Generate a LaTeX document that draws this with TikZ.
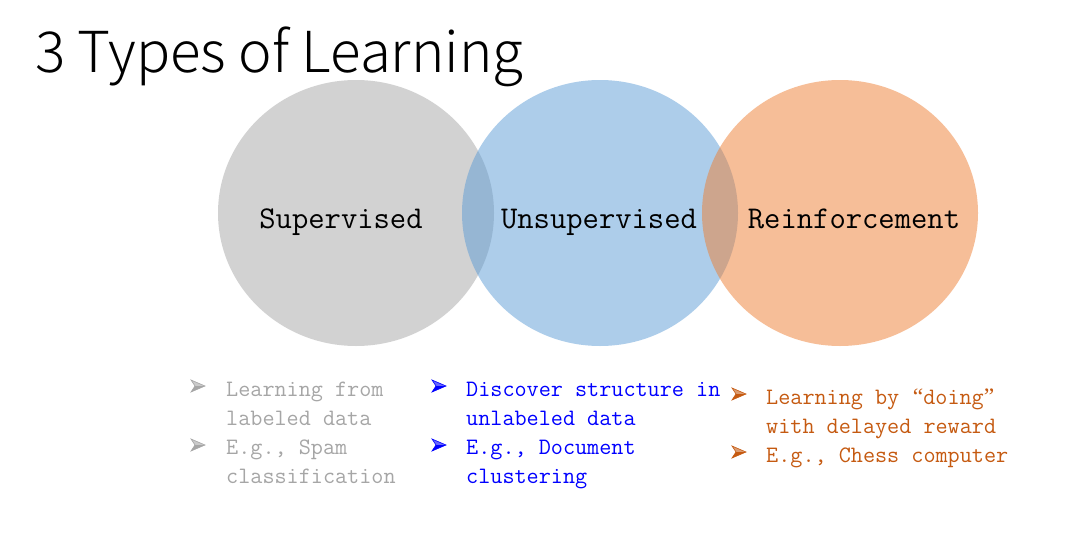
\documentclass[tikz,border=0pt]{standalone}
\usepackage{fontspec}
\newfontfamily\titlefont{Noto Sans CJK SC}[UprightFont=* Light]
\newfontfamily\quotefont{Liberation Serif}
\definecolor{supgray}{HTML}{A5A5A5}
\definecolor{unsblue}{HTML}{5B9BD5}
\definecolor{reiorange}{HTML}{ED7D31}
\definecolor{graytext}{HTML}{A6A6A6}
\definecolor{bluetext}{HTML}{0000FF}
\definecolor{orangetext}{HTML}{C55A11}
% full-width curly quotes
\newcommand{\wideopenq}{\makebox[24pt][r]{\quotefont “}}
\newcommand{\widecloseq}{\makebox[24pt][l]{\quotefont ”}}
\tikzset{
  blob/.style={fill opacity=0.5, draw=none},
  circlabel/.style={anchor=base, inner sep=0pt, font=\fontsize{31.7}{31.7}\selectfont\ttfamily},
  itemline/.style={anchor=base west, inner sep=0pt, font=\fontsize{23.5}{29}\selectfont\ttfamily},
  arrowbullet/.pic={
    \fill[#1!60] (0,-6) -- (14,0) -- (4,0) -- cycle;
    \fill[#1] (0,6) -- (14,0) -- (4,0) -- cycle;
    \draw[#1, line width=0.6pt, line join=miter] (0,-6) -- (14,0) -- (0,6) -- (4,0) -- cycle;
  }
}
\begin{document}
\begin{tikzpicture}[x=1pt, y=-1pt]
\useasboundingbox (0,0) rectangle (1074,541);

% title
\node[anchor=base west, inner sep=0pt, font=\fontsize{56.5}{56.5}\selectfont\titlefont] (title) at (35,72) {3 Types of Learning};

% the three overlapping discs
\fill[blob, supgray]   (356,213) ellipse [x radius=138, y radius=133];
\fill[blob, unsblue]   (600,213) ellipse [x radius=138, y radius=133];
\fill[blob, reiorange] (840,213) ellipse [x radius=138, y radius=133];

\node[circlabel] (sup) at (341,228) {Supervised};
\node[circlabel] (uns) at (599,228) {Unsupervised};
\node[circlabel] (rei) at (854,228) {Reinforcement};

% supervised notes
\pic at (191,386) {arrowbullet=graytext};
\node[itemline, text=graytext] (s1) at (226,396) {Learning from};
\node[itemline, text=graytext] (s2) at (226,425) {labeled data};
\pic at (191,445) {arrowbullet=graytext};
\node[itemline, text=graytext] (s3) at (226,454) {E.g., Spam};
\node[itemline, text=graytext] (s4) at (226,483) {classification};

% unsupervised notes
\pic at (432,386) {arrowbullet=bluetext};
\node[itemline, text=bluetext] (u1) at (466,396) {Discover structure in};
\node[itemline, text=bluetext] (u2) at (466,425) {unlabeled data};
\pic at (432,445) {arrowbullet=bluetext};
\node[itemline, text=bluetext] (u3) at (466,454) {E.g., Document};
\node[itemline, text=bluetext] (u4) at (466,483) {clustering};

% reinforcement notes
\pic at (732,394) {arrowbullet=orangetext};
\node[itemline, text=orangetext] (r1) at (766,404) {Learning by\wideopenq doing\widecloseq};
\node[itemline, text=orangetext] (r2) at (766,433) {with delayed reward};
\pic at (732,452) {arrowbullet=orangetext};
\node[itemline, text=orangetext] (r3) at (766,462) {E.g., Chess computer};
\end{tikzpicture}
\end{document}
